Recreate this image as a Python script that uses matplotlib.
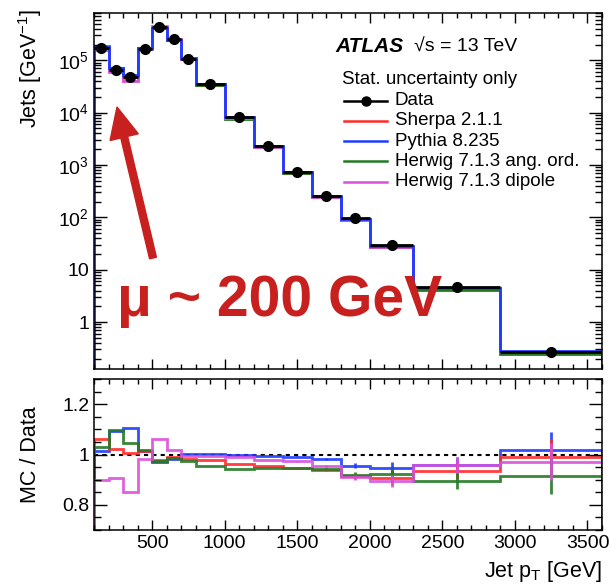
import numpy as np
import matplotlib
matplotlib.use("Agg")
import matplotlib.pyplot as plt
from matplotlib.lines import Line2D
from matplotlib.patches import FancyArrow
from matplotlib.ticker import FixedLocator, MultipleLocator, LogLocator, NullFormatter

plt.rcParams['font.family'] = ['Liberation Sans', 'DejaVu Sans']
plt.rcParams['mathtext.fontset'] = 'custom'
plt.rcParams['mathtext.rm'] = 'Liberation Sans'
plt.rcParams['mathtext.it'] = 'Liberation Sans:italic'

# bin edges of jet pT [GeV]
edges = [100, 200, 300, 400, 500, 600, 700, 800, 1000, 1200, 1400,
         1600, 1800, 2000, 2300, 2900, 3600]

# data, jets per GeV
data = [1.75e5, 6.5e4, 4.8e4, 1.67e5, 4.3e5, 2.5e5, 1.08e5, 3.5e4, 8.1e3,
        2.3e3, 7.4e2, 255, 97, 30, 4.6, 0.27]

# MC / data ratios
ratio_sherpa = [1.060, 1.022, 1.004, 1.013, 0.980, 0.990, 0.983, 0.980, 0.963,
                0.956, 0.947, 0.940, 0.914, 0.905, 0.933, 0.990]
ratio_pythia = [1.013, 1.093, 1.104, 1.015, 0.970, 0.984, 1.003, 1.003, 0.999,
                0.996, 0.991, 0.983, 0.956, 0.947, 0.958, 1.016]
ratio_herwig_ang = [1.029, 1.098, 1.045, 1.018, 0.975, 0.987, 0.974, 0.954, 0.941,
                    0.945, 0.947, 0.943, 0.920, 0.923, 0.894, 0.914]
ratio_herwig_dip = [0.900, 0.907, 0.852, 0.984, 1.063, 1.018, 0.995, 0.993, 0.991,
                    0.980, 0.973, 0.954, 0.910, 0.894, 0.958, 0.972]
ratio_err = [0, 0, 0, 0, 0, 0, 0, 0, 0, 0, 0.002, 0.004, 0.01, 0.025, 0.032, 0.072]

labels = ['Sherpa 2.1.1', 'Pythia 8.235', 'Herwig 7.1.3 ang. ord.', 'Herwig 7.1.3 dipole']
colors = ['#ff2a2a', '#1e3cff', '#237a23', '#da50da']
ratios = [ratio_sherpa, ratio_pythia, ratio_herwig_ang, ratio_herwig_dip]

ytick_vals = [1, 10, 100, 1e3, 1e4, 1e5]
ytick_labels = ['1', '10', '$10^{2}$', '$10^{3}$', '$10^{4}$', '$10^{5}$']

W, H = 609, 587
fig = plt.figure(figsize=(W / 100, H / 100), dpi=100)

def px_axes(x0, y0, x1, y1):
    return fig.add_axes([x0 / W, 1 - y1 / H, (x1 - x0) / W, (y1 - y0) / H])

ax1 = px_axes(94, 13, 602, 369)
ax2 = px_axes(94, 379, 602, 530)

edges_a = np.array(edges, dtype=float)
data_a = np.array(data)
centers = 0.5 * (edges_a[1:] + edges_a[:-1])
halfw = 0.5 * np.diff(edges_a)

# top panel: MC histograms then data
for i in [0, 2, 3, 1]:
    ax1.stairs(data_a * np.array(ratios[i]), edges_a, color=colors[i], lw=2)
ax1.errorbar(centers, data_a, xerr=halfw, fmt='o', color='black', ms=7,
             elinewidth=2, capsize=0, zorder=5)

ax1.set_yscale('log')
ax1.set_xlim(100, 3600)
ax1.set_ylim(0.127, 8.0e5)
ax1.yaxis.set_major_locator(FixedLocator(ytick_vals))
ax1.set_yticklabels(ytick_labels)
ax1.yaxis.set_minor_locator(LogLocator(base=10, subs=np.arange(2, 10), numticks=20))
ax1.yaxis.set_minor_formatter(NullFormatter())
ax1.xaxis.set_major_locator(MultipleLocator(500))
ax1.xaxis.set_minor_locator(MultipleLocator(100))
ax1.tick_params(labelbottom=False)
ax1.set_ylabel('Jets [GeV$^{-1}$]', fontsize=15.5, loc='top')
ax1.yaxis.set_label_coords(-(94 - 30) / 508, 1.01)
ax1.yaxis.label.set_va('center')

# ratio panel
ax2.axhline(1.0, color='black', ls=(0, (2, 2)), lw=1.5, zorder=1)
for i in [1, 0, 2, 3]:
    r = np.array(ratios[i])
    ax2.stairs(r, edges_a, color=colors[i], lw=2, alpha=0.9)
    ax2.errorbar(centers, r, yerr=ratio_err, fmt='none', ecolor=colors[i],
                 elinewidth=2, capsize=0, alpha=0.9)
ax2.set_xlim(100, 3600)
ax2.set_ylim(0.7, 1.3)
ax2.yaxis.set_major_locator(FixedLocator([0.8, 1.0, 1.2]))
ax2.set_yticklabels(['0.8', '1', '1.2'])
ax2.yaxis.set_minor_locator(MultipleLocator(0.05))
ax2.xaxis.set_major_locator(MultipleLocator(500))
ax2.xaxis.set_minor_locator(MultipleLocator(100))
ax2.set_ylabel('MC / Data', fontsize=15.5)
ax2.yaxis.set_label_coords(-(94 - 30) / 508, 0.5)
ax2.yaxis.label.set_va('center')
ax2.set_xlabel('Jet $\\mathrm{p}_{\\mathrm{T}}$ [GeV]', fontsize=15.5, loc='right')
ax2.xaxis.set_label_coords(1.0, -42 / 151)
ax2.xaxis.label.set_va('center')

for ax in (ax1, ax2):
    ax.tick_params(which='both', direction='in', top=True, right=True,
                   labelsize=14, width=1)
    ax.tick_params(which='major', axis='x', length=7)
    ax.tick_params(which='minor', axis='x', length=3.5)
    ax.tick_params(which='major', axis='y', length=9.5)
    ax.tick_params(which='minor', axis='y', length=5)
    for s in ax.spines.values():
        s.set_linewidth(1.1)

# ATLAS label and legend, placed in pixel coordinates
pix = fig.dpi_scale_trans
def P(x, y):
    return x / 100, (H - y) / 100

fig.text(*P(335, 47), 'ATLAS', fontsize=15, fontweight='bold', fontstyle='italic',
         va='center', ha='left', transform=pix)
fig.text(*P(414, 47), '\u221as = 13 TeV', fontsize=14, va='center', ha='left',
         transform=pix)
fig.text(*P(342, 79), 'Stat. uncertainty only', fontsize=13.5, va='center',
         ha='left', transform=pix)

leg_names = ['Data'] + labels
leg_colors = ['black'] + colors
for k, (name, c) in enumerate(zip(leg_names, leg_colors)):
    y = 100.5 + k * 20.3
    x0, y0 = P(344, y)
    x1, _ = P(387, y)
    fig.add_artist(Line2D([x0, x1], [y0, y0], color=c, lw=1.8, transform=pix))
    if k == 0:
        fig.add_artist(Line2D([(x0 + x1) / 2], [y0], marker='o', ms=6.5,
                              color='black', transform=pix))
    fig.text(*P(395, y), name, fontsize=13.5, va='center', ha='left', transform=pix)

# red annotation
red = '#c8201f'
tx, ty = P(153, 258)
hx, hy = P(117, 107)
fig.add_artist(FancyArrow(tx, ty, hx - tx, hy - ty, width=0.07, head_width=0.29,
                          head_length=0.31, length_includes_head=True,
                          color=red, transform=pix))
fig.text(*P(117, 316), '\u03bc ~ 200 GeV', fontsize=41, fontweight='bold',
         color=red, ha='left', va='baseline', transform=pix)

fig.savefig('out.png', dpi=100)
